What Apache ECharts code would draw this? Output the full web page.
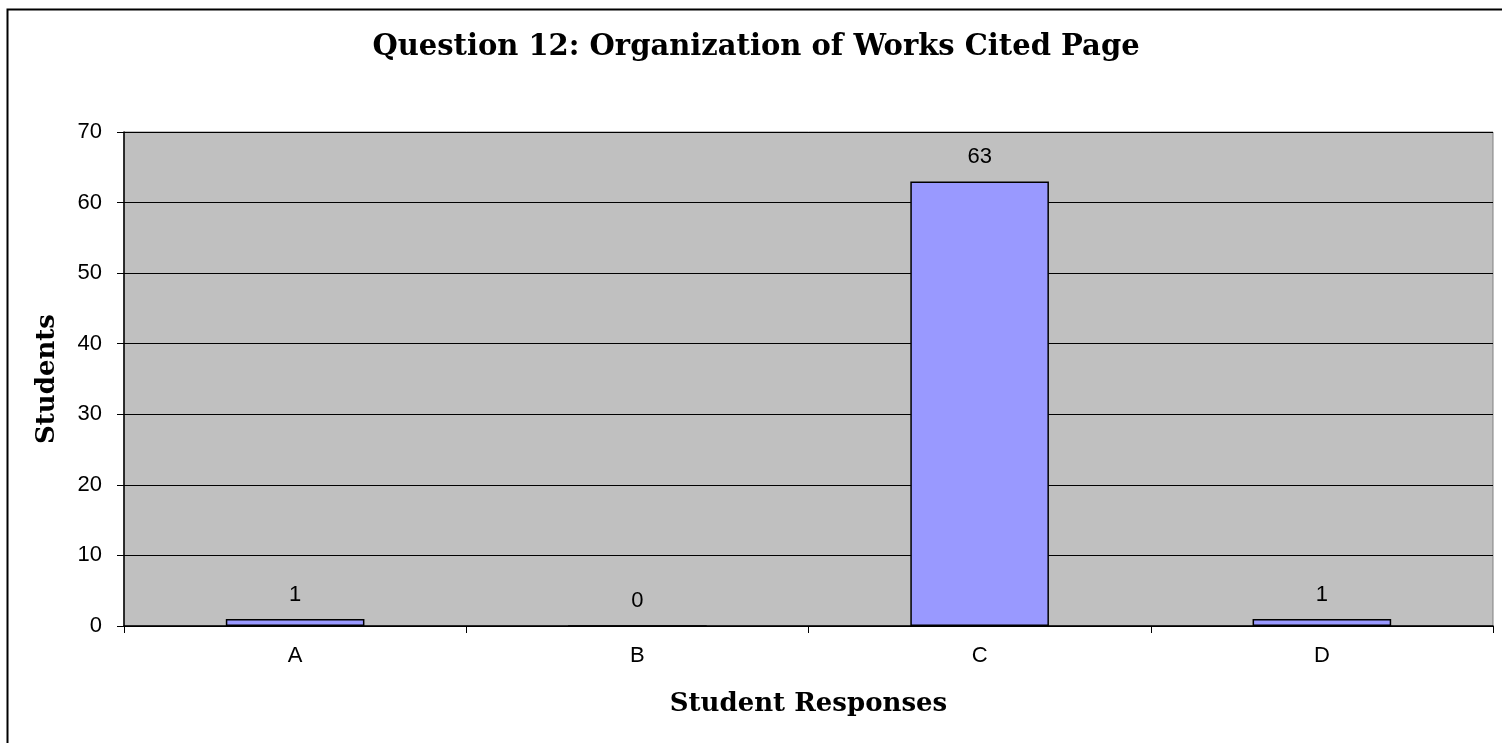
<!DOCTYPE html>
<html><head><meta charset="utf-8">
<script src="https://cdn.jsdelivr.net/npm/echarts@6/dist/echarts.min.js"></script>
<style>html,body{margin:0;padding:0;background:#fff}#c{width:1502px;height:743px}</style>
</head><body><div id="c"></div>
<script>
const categories = ['A', 'B', 'C', 'D'];
const students = [1, 0, 63, 1];
const yTicks = [0, 10, 20, 30, 40, 50, 60, 70];

const chart = echarts.init(document.getElementById('c'), null, {renderer: 'canvas'});
chart.setOption({
  animation: false,
  backgroundColor: '#ffffff',
  title: {
    text: 'Question 12: Organization of Works Cited Page',
    left: 751, top: 28, textAlign: 'center',
    textStyle: {fontFamily: 'DejaVu Serif', fontWeight: 'bold', fontSize: 29, color: '#000'}
  },
  graphic: [{
    type: 'rect', z: -1, silent: true,
    shape: {x: 7.5, y: 9.5, width: 1520, height: 800},
    style: {fill: 'none', stroke: '#000', lineWidth: 2}
  }],
  grid: {
    left: 124, right: 9, top: 132, bottom: 117,
    show: true, backgroundColor: '#C0C0C0', borderColor: '#808080', borderWidth: 1
  },
  xAxis: {
    type: 'category', data: categories,
    name: 'Student Responses', nameLocation: 'middle', nameGap: 65,
    nameTextStyle: {fontFamily: 'DejaVu Serif', fontWeight: 'bold', fontSize: 26, color: '#000'},
    axisLine: {show: true, lineStyle: {color: '#000', width: 1.5}},
    axisTick: {show: true, alignWithLabel: false, length: 7, lineStyle: {color: '#000'}},
    axisLabel: {fontFamily: 'Liberation Sans', fontSize: 22, color: '#000', margin: 19},
    splitLine: {show: false}
  },
  yAxis: {
    type: 'value', min: 0, max: 70, interval: 10,
    name: 'Students', nameLocation: 'middle', nameGap: 64, nameRotate: 90,
    nameTextStyle: {fontFamily: 'DejaVu Serif', fontWeight: 'bold', fontSize: 26, color: '#000'},
    axisLine: {show: true, lineStyle: {color: '#000', width: 1.5}},
    axisTick: {show: true, length: 7, lineStyle: {color: '#000'}},
    axisLabel: {fontFamily: 'Liberation Sans', fontSize: 22, color: '#000', margin: 22,
      formatter: v => yTicks.includes(v) ? String(v) : ''},
    splitLine: {show: true, lineStyle: {color: '#000', width: 1.2}}
  },
  series: [{
    type: 'bar', data: students, barWidth: '40.5%',
    itemStyle: {color: '#9999FF', borderColor: '#000', borderWidth: 1.5},
    label: {show: true, position: 'top', distance: 13, fontFamily: 'Liberation Sans', fontSize: 22, color: '#000'}
  }]
});
</script></body></html>
